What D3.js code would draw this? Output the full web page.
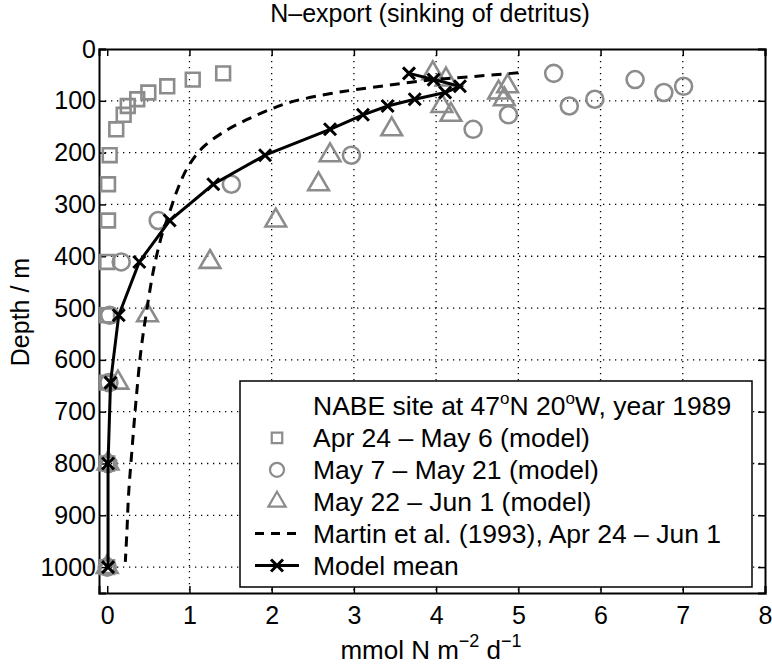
<!DOCTYPE html>
<html>
<head>
<meta charset="utf-8">
<script src="https://cdn.jsdelivr.net/npm/d3@7"></script>
<style>
  body { margin: 0; background: #fff; }
  svg { display: block; font-family: "Liberation Sans", Arial, sans-serif; }
</style>
</head>
<body>
<svg id="chart"></svg>
<script>
// depths (m) shared by the model series
const depths = [47, 59, 72, 84, 97, 110, 127, 155, 205, 261, 331, 411, 514, 644, 800, 1000];

// N-export, mmol N m-2 d-1
const aprMay = [1.41, 1.04, 0.73, 0.50, 0.365, 0.25, 0.20, 0.11, 0.03, 0.01, 0.01, 0.0, 0.0, 0.0, 0.0, 0.0];
const mayMay = [5.43, 6.42, 7.01, 6.77, 5.93, 5.62, 4.88, 4.45, 2.97, 1.51, 0.62, 0.17, 0.03, 0.02, 0.01, 0.0];
const mayJun = [3.96, 4.12, 4.87, 4.76, 4.83, 4.07, 4.18, 3.46, 2.71, 2.57, 2.05, 1.25, 0.49, 0.13, 0.01, 0.0];
const modelMean = [3.67, 3.97, 4.29, 4.11, 3.74, 3.41, 3.11, 2.71, 1.92, 1.29, 0.76, 0.39, 0.14, 0.04, 0.01, 0.01];

// Martin et al. (1993) curve
const martinDepth = [46, 54, 60, 70, 79, 86, 102, 118, 137, 157, 189, 228, 273, 324, 356, 421, 505, 582, 679, 776, 859, 930, 990];
const martinFlux = [5.0, 4.38, 3.92, 3.42, 3.0, 2.72, 2.24, 1.96, 1.69, 1.45, 1.17, 0.98, 0.85, 0.74, 0.67, 0.57, 0.48, 0.41, 0.35, 0.30, 0.26, 0.24, 0.22];

const xTicks = [0, 1, 2, 3, 4, 5, 6, 7, 8];
const yTicks = [0, 100, 200, 300, 400, 500, 600, 700, 800, 900, 1000];

const width = 772, height = 664;
const margin = {top: 49, right: 7, bottom: 71, left: 99};
const grey = "#8c8c8c";

const svg = d3.select("#chart").attr("width", width).attr("height", height);

const x = d3.scaleLinear().domain([-0.1, 8]).range([margin.left, width - margin.right]);
const y = d3.scaleLinear().domain([0, 1050]).range([margin.top, height - margin.bottom]);

// grid
const grid = svg.append("g")
  .attr("stroke", "#000").attr("stroke-width", 1.3).attr("stroke-dasharray", "1.3,4.7");
grid.selectAll(".gx").data(xTicks.filter(d => d > 0 && d < 8)).enter().append("line")
  .attr("x1", d => x(d)).attr("x2", d => x(d)).attr("y1", y(0)).attr("y2", y(1050));
grid.selectAll(".gy").data(yTicks.filter(d => d > 0)).enter().append("line")
  .attr("y1", d => y(d)).attr("y2", d => y(d)).attr("x1", x(-0.1)).attr("x2", x(8));

// axes, MATLAB-like: ticks inward on all four sides
const tl = 7;
svg.append("g").attr("transform", `translate(0,${y(1050)})`)
  .call(d3.axisBottom(x).tickValues(xTicks).tickSize(-tl).tickPadding(tl + 6).tickFormat(d3.format("d")));
svg.append("g").attr("transform", `translate(0,${y(0)})`)
  .call(d3.axisTop(x).tickValues(xTicks).tickSize(-tl).tickFormat(""));
svg.append("g").attr("transform", `translate(${x(-0.1)},0)`)
  .call(d3.axisLeft(y).tickValues(yTicks).tickSize(-tl).tickPadding(3).tickFormat(d3.format("d")));
svg.append("g").attr("transform", `translate(${x(8)},0)`)
  .call(d3.axisRight(y).tickValues(yTicks).tickSize(-tl).tickFormat(""));

svg.selectAll(".domain").attr("stroke", "#000").attr("stroke-width", 2);
svg.selectAll(".tick line").attr("stroke", "#000").attr("stroke-width", 1.5);
svg.selectAll(".tick text").attr("font-size", 25).attr("fill", "#000")
  .attr("font-family", "'Liberation Sans', Arial, sans-serif");

// markers
const markers = svg.append("g").attr("fill", "none").attr("stroke", grey).attr("stroke-width", 2.6);
const sq = d3.symbol().type(d3.symbolSquare).size(190);
const tri = d3.symbol().type(d3.symbolTriangle).size(185);

markers.selectAll(".sq").data(depths).enter().append("path")
  .attr("d", sq)
  .attr("transform", (d, i) => `translate(${x(aprMay[i])},${y(d)})`);
markers.selectAll(".ci").data(depths).enter().append("circle")
  .attr("cx", (d, i) => x(mayMay[i])).attr("cy", d => y(d)).attr("r", 8.5);
markers.selectAll(".tr").data(depths).enter().append("path")
  .attr("d", tri)
  .attr("transform", (d, i) => `translate(${x(mayJun[i])},${y(d)})`);

// Martin et al. dashed curve
const martinLine = d3.line()
  .x((d, i) => x(martinFlux[i]))
  .y(d => y(d))
  .curve(d3.curveCatmullRom);
svg.append("path").datum(martinDepth)
  .attr("d", martinLine)
  .attr("fill", "none").attr("stroke", "#000").attr("stroke-width", 3)
  .attr("stroke-dasharray", "10,7");

// model mean
const meanLine = d3.line().x((d, i) => x(modelMean[i])).y(d => y(d));
svg.append("path").datum(depths)
  .attr("d", meanLine)
  .attr("fill", "none").attr("stroke", "#000").attr("stroke-width", 3);

const cross = (cx, cy, s) => `M${cx - s},${cy - s}L${cx + s},${cy + s}M${cx + s},${cy - s}L${cx - s},${cy + s}`;
svg.append("g").selectAll("path").data(depths).enter().append("path")
  .attr("d", (d, i) => cross(x(modelMean[i]), y(d), 6))
  .attr("stroke", "#000").attr("stroke-width", 3).attr("fill", "none");

// legend
const lg = svg.append("g");
lg.append("rect").attr("x", 240).attr("y", 381).attr("width", 512).attr("height", 206)
  .attr("fill", "#fff").attr("stroke", "#000").attr("stroke-width", 1.5);

const legendLabels = [
  null,
  "Apr 24 \u2013 May 6 (model)",
  "May 7 \u2013 May 21 (model)",
  "May 22 \u2013 Jun 1 (model)",
  "Martin et al. (1993), Apr 24 \u2013 Jun 1",
  "Model mean"
];
const rowY = i => 406 + i * 31.9;
const tx = 313, mx = 277, fs = 26.5;

const head = lg.append("text").attr("x", tx).attr("y", rowY(0) + 9).attr("font-size", fs);
head.append("tspan").text("NABE site at 47");
head.append("tspan").attr("font-size", 17).attr("dy", -11).text("o");
head.append("tspan").attr("dy", 11).text("N 20");
head.append("tspan").attr("font-size", 17).attr("dy", -11).text("o");
head.append("tspan").attr("dy", 11).text("W, year 1989");

legendLabels.forEach((t, i) => {
  if (t) lg.append("text").attr("x", tx).attr("y", rowY(i) + 9).attr("font-size", fs).text(t);
});

lg.append("path").attr("d", d3.symbol().type(d3.symbolSquare).size(110))
  .attr("transform", `translate(${mx},${rowY(1)})`)
  .attr("fill", "none").attr("stroke", grey).attr("stroke-width", 2.2);
lg.append("circle").attr("cx", mx).attr("cy", rowY(2)).attr("r", 7)
  .attr("fill", "none").attr("stroke", grey).attr("stroke-width", 2.2);
lg.append("path").attr("d", d3.symbol().type(d3.symbolTriangle).size(130))
  .attr("transform", `translate(${mx},${rowY(3)})`)
  .attr("fill", "none").attr("stroke", grey).attr("stroke-width", 2.2);
lg.append("line").attr("x1", 255).attr("x2", 299).attr("y1", rowY(4)).attr("y2", rowY(4))
  .attr("stroke", "#000").attr("stroke-width", 3).attr("stroke-dasharray", "9,7");
lg.append("line").attr("x1", 255).attr("x2", 299).attr("y1", rowY(5)).attr("y2", rowY(5))
  .attr("stroke", "#000").attr("stroke-width", 3);
lg.append("path").attr("d", cross(mx, rowY(5), 6))
  .attr("stroke", "#000").attr("stroke-width", 3);

// title and axis labels
svg.append("text").attr("x", 430).attr("y", 22).attr("text-anchor", "middle")
  .attr("font-size", 25).text("N\u2013export (sinking of detritus)");

svg.append("text").attr("transform", "translate(29,312) rotate(-90)")
  .attr("text-anchor", "middle").attr("font-size", 25).text("Depth / m");

const xl = svg.append("text").attr("x", 431).attr("y", 659).attr("text-anchor", "middle").attr("font-size", 26);
xl.append("tspan").text("mmol N m");
xl.append("tspan").attr("font-size", 18).attr("dy", -12).text("\u22122");
xl.append("tspan").attr("dy", 12).text(" d");
xl.append("tspan").attr("font-size", 18).attr("dy", -12).text("\u22121");
</script>
</body>
</html>
